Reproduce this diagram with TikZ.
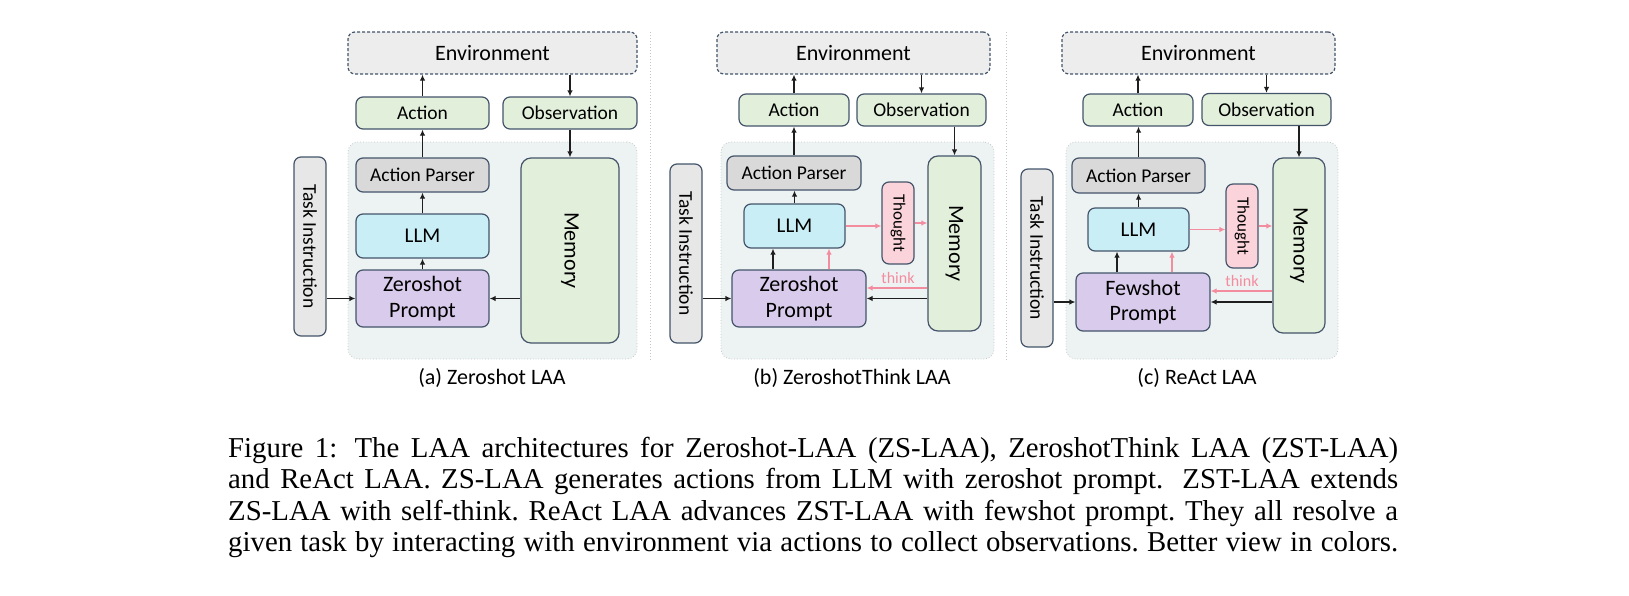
\documentclass[tikz,border=0pt]{standalone}
\usepackage{fontspec}
\setmainfont{Carlito}
\newfontfamily\capfont{Liberation Serif}
\usetikzlibrary{arrows.meta,calc}
\definecolor{bord}{HTML}{44546A}
\definecolor{envfill}{HTML}{EDEDED}
\definecolor{greenfill}{HTML}{E2EFDA}
\definecolor{parsefill}{HTML}{D9D9D9}
\definecolor{llmfill}{HTML}{C9EEF5}
\definecolor{promptfill}{HTML}{D9CBEB}
\definecolor{taskfill}{HTML}{E7E7E7}
\definecolor{thoughtfill}{HTML}{FAD3DB}
\definecolor{bgfill}{HTML}{EDF2F2}
\definecolor{bgline}{HTML}{C4C8C8}
\definecolor{pinkarr}{HTML}{F48CA0}
\definecolor{arrcol}{HTML}{1E1E1E}
\newcommand{\capline}[1]{\makebox[1170pt][s]{#1}}
\begin{document}
\frenchspacing
\begin{tikzpicture}[x=1pt,y=-1pt,
  box/.style={draw=bord, line width=1.2pt, rounded corners=7pt, inner sep=0pt, align=center},
  envbox/.style={box, fill=envfill, dash pattern=on 3pt off 2pt, font=\fontsize{22}{26}\selectfont},
  greenbox/.style={box, fill=greenfill, font=\fontsize{19.5}{23}\selectfont},
  parsebox/.style={box, fill=parsefill, font=\fontsize{19.5}{23}\selectfont},
  llmbox/.style={box, fill=llmfill, font=\fontsize{21}{25}\selectfont},
  promptbox/.style={box, fill=promptfill, font=\fontsize{22}{25.5}\selectfont},
  membox/.style={box, fill=greenfill, rounded corners=10pt, font=\fontsize{22}{26}\selectfont},
  taskbox/.style={box, fill=taskfill, font=\fontsize{19.5}{23}\selectfont},
  thoughtbox/.style={box, fill=thoughtfill, font=\fontsize{17}{20}\selectfont},
  bgbox/.style={draw=bgline, fill=bgfill, line width=0.8pt, dotted, rounded corners=10pt, inner sep=0pt},
  arr/.style={draw=arrcol, line width=1.3pt, -{Latex[length=6pt,width=5.5pt]}},
  parr/.style={draw=pinkarr, line width=1.3pt, -{Latex[length=6pt,width=5.5pt]}},
  thinklbl/.style={text=pinkarr, font=\fontsize{16}{19}\selectfont, inner sep=0pt},
  sublbl/.style={font=\fontsize{22}{26}\selectfont, inner sep=0pt},
  sep/.style={draw=bgline, line width=1pt, dotted}
]
\useasboundingbox (0,0) rectangle (1629,595);

% ---------- Panel (a) ----------
\node[bgbox, minimum width=289pt, minimum height=217pt] (bgA) at (492.5,250.5) {};
\node[envbox, minimum width=289pt, minimum height=42pt] (envA) at (492.5,53) {Environment};
\node[greenbox, minimum width=133pt, minimum height=32pt] (actA) at (422.5,113) {Action};
\node[greenbox, minimum width=134pt, minimum height=32pt] (obsA) at (570,113) {Observation};
\node[parsebox, minimum width=133pt, minimum height=34pt] (parA) at (422.5,175) {Action Parser};
\node[llmbox, minimum width=133pt, minimum height=44pt] (llmA) at (422.5,236) {LLM};
\node[promptbox, minimum width=133pt, minimum height=57pt] (prA) at (422.5,298.5) {Zeroshot\\Prompt};
\node[membox, minimum width=98pt, minimum height=185pt] (memA) at (570,250.5) {\rotatebox{-90}{Memory}};
\node[taskbox, minimum width=32pt, minimum height=179pt] (taskA) at (310,246.5) {\rotatebox{-90}{Task Instruction}};
\node[sublbl] (capA) at (492,378) {(a) Zeroshot LAA};
\draw[arr] (actA.north) -- (actA.north |- envA.south);
\draw[arr] (obsA.north |- envA.south) -- (obsA.north);
\draw[arr] (parA.north) -- (actA.south);
\draw[arr] (llmA.north) -- (parA.south);
\draw[arr] (prA.north) -- (llmA.south);
\draw[arr] (obsA.south) -- (memA.north);
\draw[arr] (taskA.east |- prA.west) -- (prA.west);
\draw[arr] (memA.west |- prA.east) -- (prA.east);

% separators
\coordinate (s1t) at (650,32);
\coordinate (s1b) at (650,360);
\coordinate (s2t) at (1006,32);
\coordinate (s2b) at (1006,360);
\draw[sep] (s1t) -- (s1b);
\draw[sep] (s2t) -- (s2b);

% ---------- Panel (b) ----------
\node[bgbox, minimum width=273pt, minimum height=217pt] (bgB) at (857.5,250.5) {};
\node[envbox, minimum width=273pt, minimum height=42pt] (envB) at (853.5,53) {Environment};
\node[greenbox, minimum width=110pt, minimum height=32pt] (actB) at (794,110) {Action};
\node[greenbox, minimum width=129pt, minimum height=32pt] (obsB) at (921.5,110) {Observation};
\node[parsebox, minimum width=134pt, minimum height=34pt] (parB) at (794,173) {Action Parser};
\node[llmbox, minimum width=101pt, minimum height=44pt] (llmB) at (794.5,226) {LLM};
\node[thoughtbox, minimum width=32pt, minimum height=82pt] (thB) at (898,223) {\rotatebox{-90}{Thought}};
\node[membox, minimum width=53pt, minimum height=175pt] (memB) at (954.5,243.5) {\rotatebox{-90}{Memory}};
\node[promptbox, minimum width=134pt, minimum height=57pt] (prB) at (799,298.5) {Zeroshot\\Prompt};
\node[taskbox, minimum width=32pt, minimum height=179pt] (taskB) at (686,253.5) {\rotatebox{-90}{Task Instruction}};
\node[sublbl] (capB) at (852,378) {(b) ZeroshotThink LAA};
\node[thinklbl] (thinkB) at (898,278) {think};
\draw[arr] (actB.north) -- (actB.north |- envB.south);
\draw[arr] (obsB.north |- envB.south) -- (obsB.north);
\draw[arr] (parB.north) -- (actB.south);
\draw[arr] (llmB.north) -- (llmB.north |- parB.south);
\draw[arr] ([xshift=-26pt]prB.north) -- ([xshift=-26pt]prB.north |- llmB.south);
\draw[parr] ([xshift=30pt]prB.north) -- ([xshift=30pt]prB.north |- llmB.south);
\draw[arr] (memB.north |- obsB.south) -- (memB.north);
\draw[parr] (llmB.east) -- (llmB.east -| thB.west);
\draw[parr] (thB.east) -- (thB.east -| memB.west);
\draw[parr] ([yshift=10.5pt]prB.east -| memB.west) -- ([yshift=10.5pt]prB.east);
\draw[arr] (memB.west |- prB.east) -- (prB.east);
\draw[arr] (taskB.east |- prB.west) -- (prB.west);

% ---------- Panel (c) ----------
\node[bgbox, minimum width=272pt, minimum height=217pt] (bgC) at (1202,250.5) {};
\node[envbox, minimum width=273pt, minimum height=42pt] (envC) at (1198.5,53) {Environment};
\node[greenbox, minimum width=110pt, minimum height=32pt] (actC) at (1138,110) {Action};
\node[greenbox, minimum width=129pt, minimum height=32pt] (obsC) at (1266.5,109.5) {Observation};
\node[parsebox, minimum width=133pt, minimum height=35pt] (parC) at (1138.5,175.5) {Action Parser};
\node[llmbox, minimum width=101pt, minimum height=43pt] (llmC) at (1138.5,229.5) {LLM};
\node[thoughtbox, minimum width=32pt, minimum height=84pt] (thC) at (1242,226) {\rotatebox{-90}{Thought}};
\node[membox, minimum width=52pt, minimum height=175pt] (memC) at (1299,245.5) {\rotatebox{-90}{Memory}};
\node[promptbox, minimum width=134pt, minimum height=58pt] (prC) at (1143,302) {Fewshot\\Prompt};
\node[taskbox, minimum width=32pt, minimum height=178pt] (taskC) at (1037,258) {\rotatebox{-90}{Task Instruction}};
\node[sublbl] (capC) at (1197,378) {(c) ReAct LAA};
\node[thinklbl] (thinkC) at (1242,281) {think};
\draw[arr] (actC.north) -- (actC.north |- envC.south);
\draw[arr] (obsC.north |- envC.south) -- (obsC.north);
\draw[arr] (parC.north) -- (parC.north |- actC.south);
\draw[arr] (llmC.north) -- (llmC.north |- parC.south);
\draw[arr] ([xshift=-26pt]prC.north) -- ([xshift=-26pt]prC.north |- llmC.south);
\draw[parr] ([xshift=29pt]prC.north) -- ([xshift=29pt]prC.north |- llmC.south);
\draw[arr] (memC.north |- obsC.south) -- (memC.north);
\draw[parr] (llmC.east) -- (llmC.east -| thC.west);
\draw[parr] (thC.east) -- (thC.east -| memC.west);
\draw[parr] ([yshift=11pt]prC.east -| memC.west) -- ([yshift=11pt]prC.east);
\draw[arr] (memC.west |- prC.east) -- (prC.east);
\draw[arr] (taskC.east |- prC.west) -- (prC.west);

% ---------- Caption ----------
\node[anchor=base west, inner sep=0pt, align=left,
      font=\capfont\fontsize{28.8}{31.4}\selectfont] (cap) at (228,551.7)
{\capline{Figure 1:\hspace{0.2em} The LAA architectures for Zeroshot-LAA (ZS-LAA), ZeroshotThink LAA (ZST-LAA)}\\
\capline{and ReAct LAA. ZS-LAA generates actions from LLM with zeroshot prompt.\hspace{0.3em} ZST-LAA extends}\\
\capline{ZS-LAA with self-think. ReAct LAA advances ZST-LAA with fewshot prompt. They all resolve a}\\
\capline{given task by interacting with environment via actions to collect observations. Better view in colors.}};
\end{tikzpicture}
\end{document}
